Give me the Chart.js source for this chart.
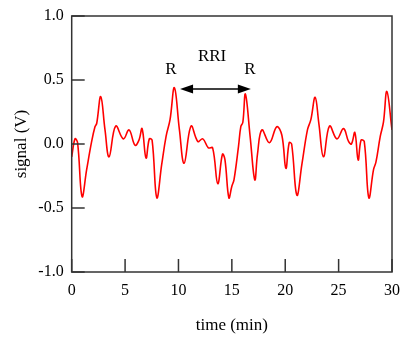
<!DOCTYPE html>
<html>
<head>
<meta charset="utf-8">
<script src="https://cdn.jsdelivr.net/npm/chart.js@4/dist/chart.umd.min.js"></script>
<style>
html,body{margin:0;padding:0;background:#fff;}
#wrap{width:403px;height:340px;position:relative;}
</style>
</head>
<body>
<div id="wrap"><canvas id="c" width="403" height="340"></canvas></div>
<script>
// time (min)
const times = [0, 0.31, 0.55, 0.97, 1.4, 1.87, 2.18, 2.34, 2.72, 3.12, 3.5, 4.12, 4.84, 5.37, 5.93, 6.3, 6.59, 6.96, 7.27, 7.53, 7.97, 8.43, 8.84, 9.21, 9.62, 10.09, 10.53, 11.18, 11.81, 12.28, 12.8, 13.2, 13.68, 14.12, 14.35, 14.72, 15.0, 15.2, 15.62, 15.84, 16.03, 16.27, 16.71, 17.15, 17.4, 17.81, 18.52, 19.21, 19.68, 20.06, 20.37, 20.6, 21.09, 21.56, 22.08, 22.4, 22.8, 23.15, 23.58, 24.15, 24.84, 25.46, 25.93, 26.2, 26.52, 26.83, 27.1, 27.4, 27.83, 28.27, 28.5, 28.9, 29.2, 29.52, 30];
// signal (V)
const signal = [-0.1, 0.04, 0.01, -0.41, -0.2, 0.02, 0.135, 0.16, 0.37, 0.11, -0.1, 0.14, 0.04, 0.11, -0.01, 0.03, 0.12, -0.11, 0.04, 0.03, -0.42, -0.16, 0.06, 0.19, 0.44, 0.11, -0.15, 0.14, 0.02, 0.04, -0.03, -0.03, -0.31, -0.08, -0.12, -0.42, -0.33, -0.28, -0.02, 0.135, 0.17, 0.39, 0.06, -0.28, -0.08, 0.11, 0.01, 0.135, 0.07, -0.19, 0.01, 0.0, -0.4, -0.16, 0.11, 0.19, 0.365, 0.16, -0.1, 0.14, 0.04, 0.12, 0.02, 0.0, 0.09, -0.125, 0.03, 0.02, -0.42, -0.2, -0.14, 0.06, 0.17, 0.41, 0.11];
const xTicks = [0, 5, 10, 15, 20, 25, 30];
const yTicks = [-1.0, -0.5, 0.0, 0.5, 1.0];
const peakLabels = ['R', 'R'];
const peakLabelTimes = [9.3, 16.7];
const intervalLabel = 'RRI';

const FONT = '"Liberation Serif", "DejaVu Serif", serif';

const framePlugin = {
  id: 'frame',
  afterDatasetsDraw(chart) {
    const {ctx, chartArea: a, scales: {x, y}} = chart;
    ctx.save();
    ctx.strokeStyle = '#333';
    ctx.lineWidth = 1.5;
    ctx.strokeRect(a.left, a.top, a.right - a.left, a.bottom - a.top);
    ctx.beginPath();
    xTicks.forEach(v => {
      const px = x.getPixelForValue(v);
      ctx.moveTo(px, a.bottom);
      ctx.lineTo(px, a.bottom - 13);
    });
    yTicks.forEach(v => {
      const py = y.getPixelForValue(v);
      ctx.moveTo(a.left, py);
      ctx.lineTo(a.left + 13, py);
    });
    ctx.stroke();

    // annotations
    ctx.fillStyle = '#000';
    ctx.font = '17px ' + FONT;
    ctx.textAlign = 'center';
    ctx.textBaseline = 'middle';
    peakLabels.forEach((t, i) => {
      ctx.fillText(t, x.getPixelForValue(peakLabelTimes[i]), y.getPixelForValue(0.585));
    });
    ctx.fillText(intervalLabel, x.getPixelForValue(13.15), y.getPixelForValue(0.68));

    const ay = y.getPixelForValue(0.43);
    const x1 = x.getPixelForValue(10.15);
    const x2 = x.getPixelForValue(16.78);
    const hl = 13, hw = 4.5;
    ctx.strokeStyle = '#000';
    ctx.lineWidth = 1.6;
    ctx.beginPath();
    ctx.moveTo(x1 + hl - 2, ay);
    ctx.lineTo(x2 - hl + 2, ay);
    ctx.stroke();
    ctx.beginPath();
    ctx.moveTo(x1, ay); ctx.lineTo(x1 + hl, ay - hw); ctx.lineTo(x1 + hl, ay + hw); ctx.closePath();
    ctx.moveTo(x2, ay); ctx.lineTo(x2 - hl, ay - hw); ctx.lineTo(x2 - hl, ay + hw); ctx.closePath();
    ctx.fill();
    ctx.restore();
  }
};

new Chart(document.getElementById('c'), {
  type: 'line',
  data: {
    datasets: [{
      data: times.map((t, i) => ({x: t, y: signal[i]})),
      borderColor: '#ff0000',
      borderWidth: 1.6,
      pointRadius: 0,
      tension: 0.4,
      fill: false
    }]
  },
  options: {
    responsive: false,
    animation: false,
    plugins: {legend: {display: false}, tooltip: {enabled: false}},
    layout: {padding: {top: 16, right: 11, left: 0, bottom: 0}},
    scales: {
      x: {
        type: 'linear', min: 0, max: 30,
        afterFit: s => { s.height = 68; s.paddingLeft = 0; s.paddingRight = 0; },
        afterBuildTicks: s => { s.ticks = xTicks.map(v => ({value: v})); },
        grid: {display: false, drawTicks: false, tickLength: 0},
        border: {display: false},
        ticks: {color: '#000', padding: 9, font: {family: FONT, size: 16}, maxRotation: 0,
                callback: v => String(v)},
        title: {display: true, text: 'time (min)', color: '#000', font: {family: FONT, size: 17}, padding: {top: 4, bottom: 4}}
      },
      y: {
        type: 'linear', min: -1, max: 1,
        afterFit: s => { s.width = 71.7; s.paddingTop = 0; s.paddingBottom = 0; },
        afterBuildTicks: s => { s.ticks = yTicks.map(v => ({value: v})); },
        grid: {display: false, drawTicks: false, tickLength: 0},
        border: {display: false},
        ticks: {color: '#000', padding: 8, font: {family: FONT, size: 16},
                callback: v => Number(v).toFixed(1)},
        title: {display: true, text: 'signal (V)', color: '#000', font: {family: FONT, size: 17}, padding: {top: 11, bottom: 4}}
      }
    }
  },
  plugins: [framePlugin]
});
</script>
</body>
</html>
